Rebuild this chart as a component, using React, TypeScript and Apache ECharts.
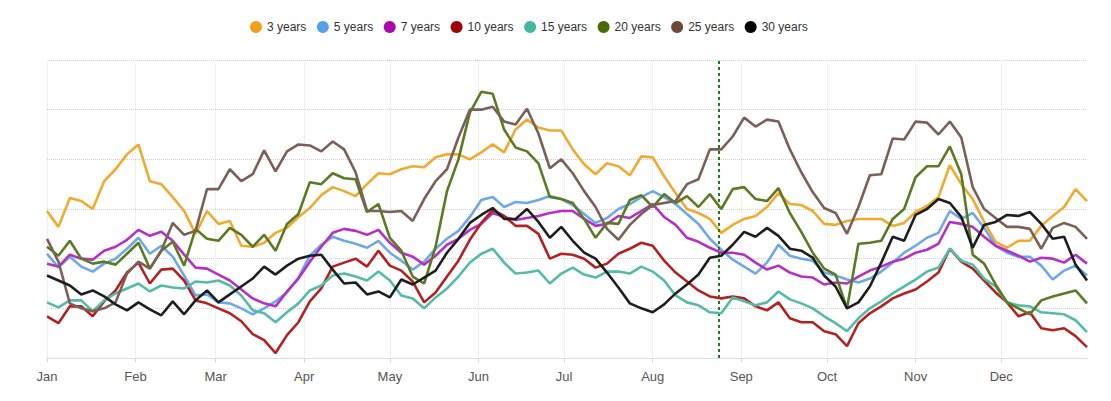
import React, { useEffect, useRef } from "react";
import * as echarts from "echarts";

const YEAR = 2023;
const MONTHS = ["Jan", "Feb", "Mar", "Apr", "May", "Jun", "Jul", "Aug", "Sep", "Oct", "Nov", "Dec"];
const MARKER_DATE = "2023-08-24";

const pad = (n: number) => (n < 10 ? "0" + n : "" + n);
const CATEGORIES: string[] = [];
for (let i = 0; i < 365; i++) {
  const dt = new Date(Date.UTC(YEAR, 0, 1 + i));
  CATEGORIES.push(`${dt.getUTCFullYear()}-${pad(dt.getUTCMonth() + 1)}-${pad(dt.getUTCDate())}`);
}
// sampled day indexes (every 4th day of the year)
const SAMPLE_DAYS: number[] = [];
for (let d = 0; d <= 364; d += 4) SAMPLE_DAYS.push(d);

const SERIES_NAMES = ["3 years", "5 years", "7 years", "10 years", "15 years", "20 years", "25 years", "30 years"];
const LEGEND_COLORS = ["#f0a01c", "#5b9ee6", "#a80aa8", "#a00000", "#40b8a0", "#4b6b0a", "#6b4a3a", "#000000"];
const LINE_COLORS = ["#f2aa2e", "#6ea8e8", "#b530c5", "#b22222", "#55bba8", "#5b7b22", "#7b6058", "#1e1e1e"];

const Y3 = [148,132,161,158,150,178,190,205,215,178,175,162,148,125,148,135,138,113,112,116,126,131,142,151,164,172,168,163,175,186,185,190,193,192,202,205,205,200,207,215,207,230,240,232,229,229,210,195,185,196,193,184,203,202,183,166,150,146,140,126,134,140,143,152,166,155,154,148,135,134,138,140,140,140,133,136,147,153,162,194,175,160,137,117,111,118,118,133,143,152,170,158];
const Y5 = [105,91,102,92,87,95,100,110,121,105,113,102,83,63,64,56,55,50,44,50,57,66,81,103,114,122,118,115,111,118,106,98,89,97,110,120,128,142,159,162,152,157,156,159,163,160,154,145,136,141,150,155,162,168,162,155,145,135,120,109,99,92,85,96,114,103,100,98,86,83,79,76,80,87,96,106,113,121,126,148,140,146,131,113,106,102,102,93,79,88,93,83];
const Y7 = [95,92,104,100,99,108,112,119,129,123,127,118,104,91,90,84,78,69,60,55,52,67,80,97,112,126,130,128,124,129,116,106,102,94,103,114,120,129,135,146,142,139,141,143,146,148,148,140,133,135,143,141,148,155,142,134,121,117,111,106,106,104,96,89,93,86,82,81,74,76,75,82,88,92,97,100,106,109,115,137,135,132,122,113,108,103,97,101,100,96,104,95];
const Y10 = [42,35,52,52,42,57,68,86,96,75,89,90,78,58,55,50,45,37,24,18,5,23,36,57,70,92,96,100,92,108,93,88,77,56,66,82,98,119,136,149,143,133,133,125,100,105,104,100,91,95,105,110,116,113,98,86,77,68,62,60,62,60,52,48,56,40,36,36,27,24,12,35,45,52,60,65,69,77,86,110,97,90,78,66,56,42,46,30,28,30,22,11];
const Y15 = [56,51,58,58,47,58,65,70,75,67,73,71,70,77,76,78,73,63,48,45,36,46,55,68,73,83,85,82,78,87,78,63,60,50,61,70,82,96,105,110,96,85,86,88,75,85,91,84,81,87,87,85,92,87,78,63,56,53,46,45,61,57,53,56,67,59,55,50,42,35,27,40,50,57,65,72,79,87,91,110,98,94,80,72,56,53,52,46,45,44,38,26];
const Y20 = [112,103,118,100,95,97,94,105,116,90,108,117,93,130,120,118,131,124,112,124,108,135,145,177,175,186,181,180,147,155,121,108,82,75,112,168,200,247,268,266,230,212,208,196,162,160,156,140,121,136,135,159,164,152,165,156,163,152,165,150,170,172,160,158,171,146,127,106,90,84,50,115,116,118,140,150,182,193,193,213,185,104,95,74,56,50,44,58,62,65,68,55];
const Y25 = [120,97,55,50,47,50,56,85,97,90,108,136,124,128,170,170,190,178,185,209,188,208,215,214,208,218,210,187,148,148,147,148,138,160,178,190,222,250,250,253,238,235,251,226,191,200,186,168,152,130,119,134,145,154,156,158,175,180,210,210,223,242,233,240,238,210,187,167,151,146,125,152,184,185,221,220,238,237,225,238,222,172,150,141,132,132,130,110,131,136,132,120];
const Y30 = [83,78,73,64,68,62,54,48,56,49,43,57,44,58,68,56,64,72,80,92,84,93,100,103,104,89,75,76,64,67,61,79,74,81,88,106,120,136,144,151,140,140,150,137,121,132,118,106,100,86,71,55,50,46,54,65,74,84,101,103,114,127,122,131,123,110,108,101,83,72,50,56,72,96,122,118,144,150,160,156,142,111,134,137,144,143,147,135,120,122,94,78];

const VALUES = [Y3, Y5, Y7, Y10, Y15, Y20, Y25, Y30];

const Y_MIN = 0;
const Y_MAX = 300;
const Y_INTERVAL = 50;

const isMonthStart = (value: string) => typeof value === "string" && value.endsWith("-01");

export default function App() {
  const ref = useRef<HTMLDivElement>(null);
  useEffect(() => {
    if (!ref.current) return;
    const chart = echarts.init(ref.current, undefined, { renderer: "svg" });
    const font = "'Liberation Sans', Arial, Helvetica, sans-serif";
    chart.setOption({
      animation: false,
      textStyle: { fontFamily: font },
      legend: {
        data: SERIES_NAMES,
        icon: "circle",
        itemWidth: 12,
        itemHeight: 12,
        itemGap: 10.5,
        padding: 0,
        left: 250,
        top: 21,
        textStyle: { fontSize: 12, color: "#333", fontFamily: font },
      },
      grid: { left: 47, right: 24, top: 60, bottom: 43, containLabel: false },
      xAxis: {
        type: "category",
        data: CATEGORIES,
        boundaryGap: false,
        axisLine: { show: true, lineStyle: { color: "#dcdcdc", width: 1 } },
        axisTick: {
          show: true,
          length: 4,
          interval: (_i: number, v: string) => isMonthStart(v),
          lineStyle: { color: "#d0d0d0" },
        },
        axisLabel: {
          interval: (_i: number, v: string) => isMonthStart(v),
          formatter: (v: string) => MONTHS[parseInt(v.slice(5, 7), 10) - 1],
          color: "#555",
          fontSize: 13,
          margin: 12,
          fontFamily: font,
        },
        splitLine: {
          show: true,
          interval: (_i: number, v: string) => isMonthStart(v),
          lineStyle: { color: "#e4e4e4", type: "dotted", width: 1 },
        },
      },
      yAxis: {
        type: "value",
        min: Y_MIN,
        max: Y_MAX,
        interval: Y_INTERVAL,
        axisLabel: { show: false },
        axisLine: { show: false },
        axisTick: { show: false },
        splitLine: { show: true, lineStyle: { color: "#cfcfcf", type: "dotted", width: 1 } },
      },
      series: SERIES_NAMES.map((name, i) => ({
        type: "line",
        name,
        data: SAMPLE_DAYS.map((d, j) => [d, VALUES[i][j]]),
        symbol: "none",
        showSymbol: false,
        lineStyle: { color: LINE_COLORS[i], width: 2.6 },
        itemStyle: { color: LEGEND_COLORS[i] },
        emphasis: { disabled: true },
        z: 2 + i,
        ...(i === 0
          ? {
              markLine: {
                silent: true,
                symbol: ["none", "none"],
                label: { show: false },
                lineStyle: { color: "#1e7b1e", type: [3, 3], width: 2 },
                data: [{ xAxis: MARKER_DATE }],
              },
            }
          : {}),
      })),
    });
    return () => chart.dispose();
  }, []);
  return (
    <div
      ref={ref}
      style={{ position: "fixed", left: 0, top: 0, width: 1111, height: 401, background: "#fff" }}
    />
  );
}
